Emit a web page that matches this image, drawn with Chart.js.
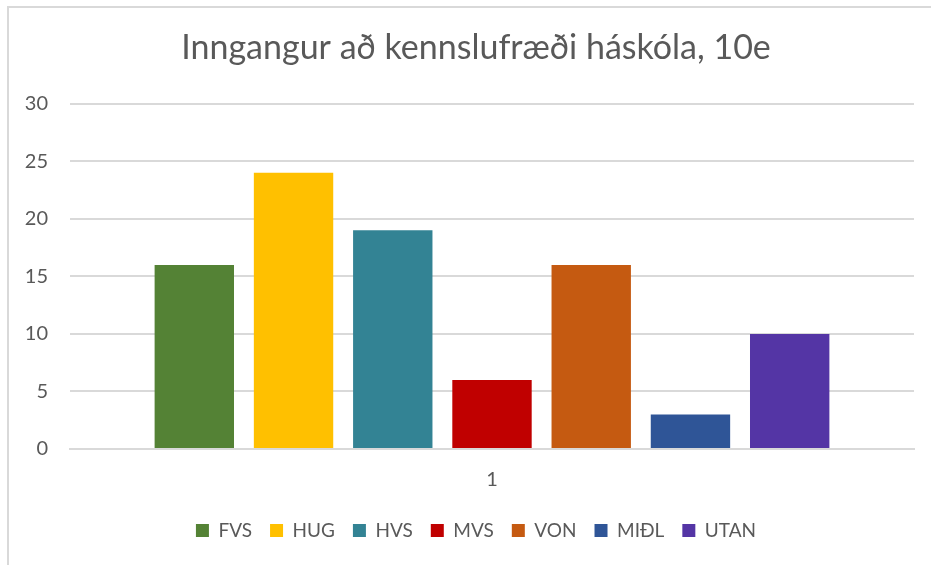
<!DOCTYPE html>
<html>
<head>
<meta charset="utf-8">
<script src="https://cdn.jsdelivr.net/npm/chart.js@4.4.1/dist/chart.umd.min.js"></script>
<style>
  html, body { margin: 0; padding: 0; background: #fff; overflow: hidden; width: 931px; height: 565px; }
  #wrap { position: absolute; left: 7px; top: 6px; width: 934px; height: 570px;
          border-left: 2px solid #d9d9d9; border-top: 2px solid #d9d9d9; }
  canvas { display: block; }
</style>
</head>
<body>
<div id="wrap"><canvas id="c" width="934" height="570"></canvas></div>
<script>
const titleText = "Inngangur að kennslufræði háskóla, 10e";
const categories = ["1"];
const seriesNames = ["FVS", "HUG", "HVS", "MVS", "VON", "MIÐL", "UTAN"];
const seriesValues = [[16], [24], [19], [6], [16], [3], [10]];
const seriesColors = ["#548235", "#FFC000", "#338394", "#C00000", "#C55A11", "#2F5597", "#5435A5"];
const yTicks = [0, 5, 10, 15, 20, 25, 30];

const textColor = "#595959";
const font = "Lato, Carlito, Calibri, 'Open Sans', sans-serif";

const datasets = seriesNames.map((n, i) => ({
  label: n,
  data: seriesValues[i],
  backgroundColor: seriesColors[i],
  borderWidth: 0,
  categoryPercentage: 0.823,
  barPercentage: 0.8
}));

new Chart(document.getElementById("c"), {
  type: "bar",
  data: { labels: categories, datasets },
  options: {
    responsive: false,
    animation: false,
    layout: { padding: { left: 0, right: 0, top: 0, bottom: 28 } },
    plugins: {
      title: {
        display: true, text: titleText, color: textColor,
        font: { family: font, size: 34, weight: "normal" },
        padding: { top: 20, bottom: 35 }
      },
      legend: {
        position: "bottom",
        labels: { color: textColor, font: { family: font, size: 19 }, boxWidth: 13, boxHeight: 13, padding: 18 }
      },
      tooltip: { enabled: false }
    },
    scales: {
      x: {
        grid: { display: false },
        border: { display: true, color: "#d9d9d9", width: 2 },
        ticks: { color: textColor, font: { family: font, size: 20 }, padding: 11 },
        afterFit: s => { s.height = 54; }
      },
      y: {
        min: 0, max: 30,
        afterBuildTicks: s => { s.ticks = yTicks.map(v => ({ value: v })); },
        grid: { color: "#d9d9d9", lineWidth: 2, drawTicks: false },
        border: { display: false },
        ticks: { color: textColor, font: { family: font, size: 20 }, padding: 22 },
        afterFit: s => { s.width = 61; }
      },
      yRight: {
        position: "right",
        display: true,
        grid: { display: false, drawTicks: false },
        border: { display: false },
        ticks: { display: false },
        afterFit: s => { s.width = 29; }
      }
    }
  }
});
</script>
</body>
</html>
